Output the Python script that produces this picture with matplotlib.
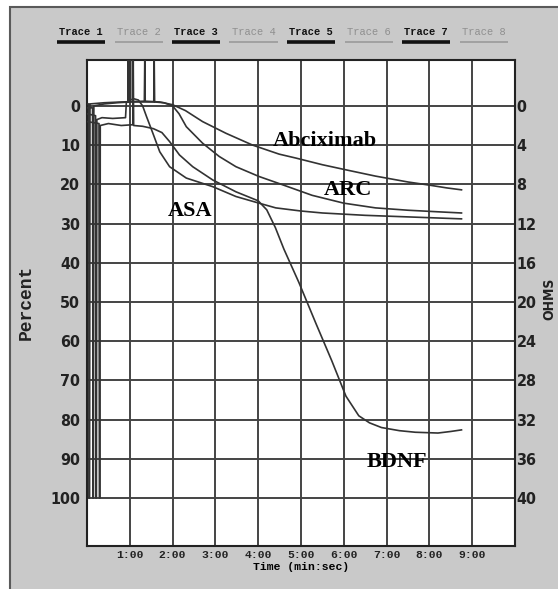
import matplotlib
matplotlib.use("Agg")
import matplotlib.pyplot as plt
from matplotlib import font_manager as fm
from matplotlib.patches import Rectangle
from matplotlib.lines import Line2D

# ---------------- data (time in minutes, aggregation in percent) ----------------
abcix_t = [0.0, 0.04, 0.05, 0.06, 0.07, 0.4, 0.8, 1.34, 1.35, 1.36, 1.7, 2.0, 2.3, 2.7,
           3.25, 3.87, 4.49, 4.88, 5.5, 6.05, 6.74, 7.5, 8.0, 8.4, 8.75]
abcix_p = [-0.5, -0.5, 100, 100, -0.5, -0.8, -1.0, -1.2, -12, -1.2, -1.0, -0.3, 1.2, 4.0,
           7.0, 10.0, 12.3, 13.3, 15.0, 16.3, 17.9, 19.4, 20.2, 20.9, 21.4]

arc_t = [0.0, 0.13, 0.14, 0.15, 0.16, 0.4, 0.7, 1.0, 1.56, 1.57, 1.58, 1.8, 2.0, 2.15,
         2.32, 2.7, 3.09, 3.48, 4.02, 4.49, 5.26, 6.0, 6.74, 7.5, 8.2, 8.75]
arc_p = [0.5, 0.5, 100, 100, 0.0, -0.5, -0.8, -1.0, -1.0, -12, -1.0, -0.8, 0.0, 2.0,
         5.3, 9.5, 12.9, 15.5, 18.0, 19.8, 22.8, 24.8, 26.0, 26.6, 27.0, 27.3]

asa_t = [0.0, 0.20, 0.21, 0.22, 0.23, 0.35, 0.6, 0.9, 0.92, 0.96, 0.965, 0.97, 1.01,
         1.015, 1.02, 1.1, 1.2, 1.3, 1.39, 1.54, 1.70, 1.93, 2.32, 2.94, 3.48, 4.02,
         4.41, 5.0, 5.5, 6.0, 6.5, 7.0, 7.5, 8.0, 8.5, 8.75]
asa_p = [2.0, 2.5, 100, 100, 3.5, 3.0, 3.2, 3.0, -1.0, -1.0, -12, -1.0, -1.0,
         -12, -1.5, -1.8, -1.5, 0.0, 2.7, 7.0, 11.7, 15.5, 18.4, 20.6, 23.1, 24.8,
         26.0, 26.8, 27.3, 27.6, 27.9, 28.1, 28.3, 28.5, 28.7, 28.8]

bdnf_t = [0.0, 0.28, 0.29, 0.30, 0.31, 0.5, 0.8, 1.07, 1.08, 1.09, 1.3, 1.55, 1.75,
          1.93, 2.16, 2.47, 2.94, 3.48, 4.0, 4.2, 4.4, 4.6, 4.95, 5.35, 5.72, 6.05,
          6.35, 6.6, 6.88, 7.3, 7.67, 8.2, 8.5, 8.75]
bdnf_p = [4.0, 4.5, 100, 100, 5.0, 4.5, 5.0, 4.8, -12, 5.0, 5.2, 5.8, 6.8,
          9.1, 12.5, 15.5, 18.9, 21.9, 24.2, 26.5, 31.0, 36.5, 45.0, 55.5, 65.0, 74.0,
          79.0, 80.8, 82.0, 82.8, 83.2, 83.4, 83.0, 82.6]

labels = ["Abciximab", "ARC", "ASA", "BDNF"]
label_t = [5.56, 6.09, 2.40, 7.24]
label_p = [8.9, 21.4, 26.9, 90.9]

time_ticks = [1, 2, 3, 4, 5, 6, 7, 8, 9]
time_labels = ["1:00", "2:00", "3:00", "4:00", "5:00", "6:00", "7:00", "8:00", "9:00"]
pct_ticks = [0, 10, 20, 30, 40, 50, 60, 70, 80, 90, 100]
ohm_ticks = [0, 4, 8, 12, 16, 20, 24, 28, 32, 36, 40]
trace_names = ["Trace 1", "Trace 2", "Trace 3", "Trace 4",
               "Trace 5", "Trace 6", "Trace 7", "Trace 8"]

# ---------------- fonts ----------------
names = {f.name for f in fm.fontManager.ttflist}
narrow = "Liberation Sans Narrow" if "Liberation Sans Narrow" in names else "DejaVu Sans"
mono = "Liberation Mono" if "Liberation Mono" in names else "DejaVu Sans Mono"
serif = "Liberation Serif" if "Liberation Serif" in names else "DejaVu Serif"
NARROW = dict(family=narrow, fontweight="bold", fontstretch="condensed")

W, H = 558, 589
fig = plt.figure(figsize=(W / 100, H / 100), dpi=100, facecolor="white")

# gray instrument panel
panel = Rectangle((10 / W, -0.05), 1, 1.05 - 7 / H, transform=fig.transFigure,
                  facecolor="#c9c9c9", edgecolor="#5a5a5a", linewidth=1.5, zorder=-10)
fig.patches.append(panel)

# trace legend along the top
cx0, dx = 81, 57.5
for i, name in enumerate(trace_names):
    cx = (cx0 + i * dx) / W
    odd = (i % 2 == 0)
    fig.text(cx, 1 - 32 / H, name, ha="center", va="center", family=mono,
             fontsize=7.5, fontweight="bold" if odd else "normal",
             color="#111111" if odd else "#8f8f8f")
    fig.add_artist(Line2D([cx - 24 / W, cx + 24 / W], [1 - 42 / H, 1 - 42 / H],
                          transform=fig.transFigure,
                          color="#111111" if odd else "#9a9a9a",
                          linewidth=2.6 if odd else 1.2, solid_capstyle="butt"))

# ---------------- axes ----------------
left, right, top, bottom = 87, 515, 60, 546
ax = fig.add_axes([left / W, 1 - bottom / H, (right - left) / W, (bottom - top) / H])
ax.set_facecolor("white")
ax.set_zorder(1)
ylo, yhi = -11.7, 112.2
ax.set_xlim(0, 10)
ax.set_ylim(yhi, ylo)

for t in time_ticks:
    ax.axvline(t, color="#444444", linewidth=1.4, zorder=1)
for p in pct_ticks:
    ax.axhline(p, color="#444444", linewidth=1.4, zorder=1)

for tt, pp in [(abcix_t, abcix_p), (arc_t, arc_p), (asa_t, asa_p), (bdnf_t, bdnf_p)]:
    ax.plot(tt, pp, color="#333333", linewidth=1.2, zorder=3)

for txt, t, p in zip(labels, label_t, label_p):
    ax.text(t, p, txt, ha="center", va="center", family=serif, fontweight="bold",
            fontsize=16, color="black", zorder=4)

ax.set_xticks(time_ticks)
ax.set_xticklabels(time_labels, family=mono, fontweight="bold", fontsize=8.2)
ax.set_yticks(pct_ticks)
ax.set_yticklabels([str(v) for v in pct_ticks], fontsize=11.5, **NARROW)
ax.tick_params(axis="both", length=0, colors="#222222")
ax.tick_params(axis="y", pad=5)
ax.tick_params(axis="x", pad=3)
for s in ax.spines.values():
    s.set_linewidth(1.5)
    s.set_color("#222222")

ax.set_xlabel("Time (min:sec)", family=mono, fontweight="bold", fontsize=8.2,
              labelpad=1)

ax2 = ax.twinx()
ax2.set_ylim(yhi * 0.4, ylo * 0.4)
ax2.set_yticks(ohm_ticks)
ax2.set_yticklabels([str(v) for v in ohm_ticks], fontsize=11.5, **NARROW)
ax2.tick_params(axis="y", length=0, pad=1, colors="#222222")
for s in ax2.spines.values():
    s.set_visible(False)

fig.text(26 / W, 1 - 302 / H, "Percent", rotation=90, ha="center", va="center",
         family=mono, fontweight="bold", fontsize=13, color="#222222")
fig.text(549 / W, 1 - 299 / H, "OHMS", rotation=90, ha="center", va="center",
         fontsize=10, color="#222222", **NARROW)

fig.savefig("out.png", dpi=100, facecolor="white")
